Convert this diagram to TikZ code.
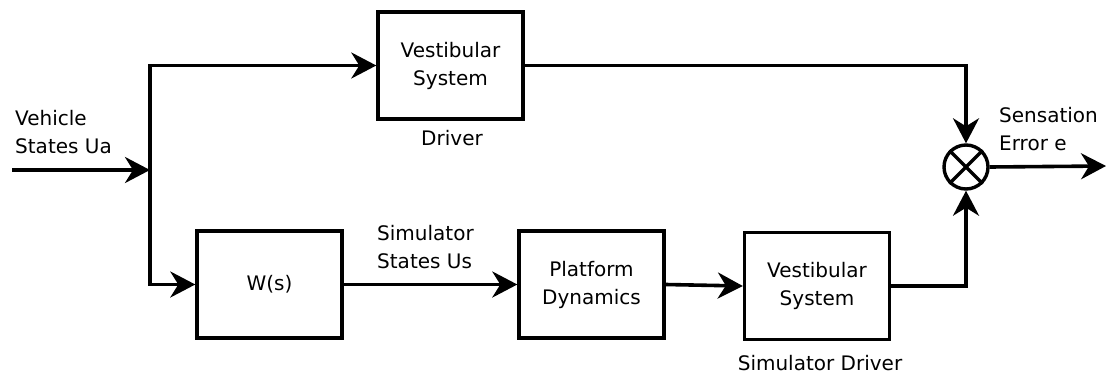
\documentclass[tikz,border=0pt]{standalone}
\usepackage{fontspec}
\setmainfont{DejaVu Sans}
\usetikzlibrary{arrows.meta}
\tikzset{
  blk/.style={draw, line width=3.4pt, minimum width=145pt, minimum height=107pt, align=center, inner sep=0pt},
  lbl/.style={inner sep=0pt, align=left},
  wire/.style={line width=3.6pt},
  arr/.style={wire, -{Stealth[length=25pt,width=26pt,inset=8pt]}},
  sumnode/.style={draw, circle, line width=3.4pt, minimum size=44pt, inner sep=0pt}
}
\begin{document}
\begin{tikzpicture}[x=1pt,y=-1pt, font=\fontsize{20}{28}\selectfont]
\useasboundingbox (0,0) rectangle (1107,375);
\node[blk] (vt) at (450.5,65.5) {Vestibular\\System};
\node[blk] (w) at (269.5,284.5) {W(s)};
\node[blk] (pd) at (591.5,284.5) {Platform\\Dynamics};
\node[blk] (vb) at (817,286) {Vestibular\\System};
\node[sumnode] (s) at (966,167) {};
\draw[line width=3.4pt] (s.north west) -- (s.south east) (s.north east) -- (s.south west);

\coordinate (in) at (12,170);
\coordinate (br) at (150,170);
\coordinate (bt) at (150,65.5);
\coordinate (bb) at (150,284.5);
\coordinate (out) at (1106,166);

\draw[arr] (in) -- (br);
\draw[wire, line cap=rect] (bt) -- (bb);
\draw[arr] (bt) -- (vt.west);
\draw[arr] (bb) -- (w.west);
\draw[arr] (w.east) -- (pd.west);
\draw[arr] (pd.east) -- (vb.west);
\draw[arr] (vt.east) -| (s.north);
\draw[arr] (vb.east) -| (s.south);
\draw[arr] (s.east) -- (out);

\node[lbl, anchor=west] (l1) at (15,132) {Vehicle\\States Ua};
\node[lbl] (l2) at (452,138) {Driver};
\node[lbl, anchor=west] (l3) at (377,247) {Simulator\\States Us};
\node[lbl, anchor=west] (l4) at (999,129) {Sensation\\Error e};
\node[lbl] (l5) at (820,363) {Simulator Driver};
\end{tikzpicture}
\end{document}
